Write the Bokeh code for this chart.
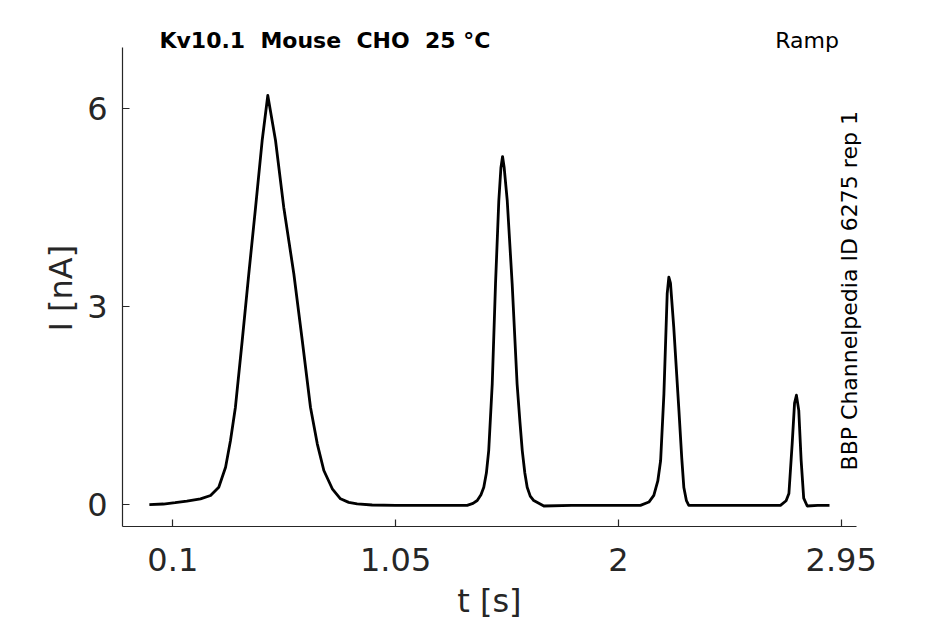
import math
from bokeh.plotting import figure
from bokeh.models import Label, Range1d, FixedTicker
from bokeh.embed import file_html
from bokeh.resources import INLINE

# ---- data ----
t_s = [0.00, 0.06, 0.11, 0.16, 0.218, 0.261, 0.296, 0.325, 0.346, 0.367, 0.396, 0.424, 0.453,
       0.481, 0.505, 0.538, 0.573, 0.616, 0.652, 0.687, 0.716, 0.744, 0.780, 0.815, 0.850, 0.886,
       0.95, 1.05, 1.15, 1.25, 1.355, 1.380, 1.398, 1.414, 1.426, 1.437, 1.447, 1.462, 1.476, 1.490,
       1.499, 1.506, 1.513, 1.526, 1.547, 1.568, 1.580, 1.590, 1.601, 1.611, 1.624, 1.639, 1.682,
       1.80, 1.90, 2.00, 2.094, 2.130, 2.151, 2.168, 2.180, 2.194, 2.208, 2.215, 2.222, 2.236,
       2.258, 2.270, 2.279, 2.290, 2.300, 2.40, 2.50, 2.60, 2.691, 2.715, 2.727, 2.741, 2.751,
       2.759, 2.769, 2.779, 2.790, 2.805, 2.85, 2.90]
i_nA = [-0.01, 0.0, 0.02, 0.045, 0.079, 0.129, 0.255, 0.558, 0.963, 1.468, 2.480, 3.492, 4.502,
        5.513, 6.196, 5.513, 4.502, 3.492, 2.480, 1.468, 0.913, 0.508, 0.231, 0.079, 0.025, 0.003,
        -0.015, -0.02, -0.02, -0.02, -0.02, 0.01, 0.053, 0.14, 0.255, 0.47, 0.81, 1.82, 3.34, 4.60,
        5.10, 5.27, 5.10, 4.60, 3.34, 1.82, 1.25, 0.81, 0.47, 0.255, 0.12, 0.053, -0.03,
        -0.02, -0.02, -0.02, -0.02, 0.03, 0.13, 0.35, 0.66, 1.67, 3.19, 3.44, 3.35, 2.68,
        1.42, 0.70, 0.25, 0.05, -0.02, -0.02, -0.02, -0.02, -0.02, 0.05, 0.16, 0.92, 1.53,
        1.65, 1.42, 0.67, 0.09, -0.03, -0.02, -0.02]

x_ticks = [0.1, 1.05, 2.0, 2.95]
x_tick_labels = {0.1: "0.1", 1.05: "1.05", 2.0: "2", 2.95: "2.95"}
y_ticks = [0, 3, 6]
x_axis_extent = (-0.1145, 3.017)
y_axis_extent = (-0.341, 6.925)

title_text = "Kv10.1\u00a0 Mouse\u00a0 CHO\u00a0 25 \u00b0C"
protocol_text = "Ramp"
source_text = "BBP Channelpedia ID 6275 rep 1"

AX = "#262626"
FONT = "DejaVu Sans"

p = figure(width=937, height=622, output_backend="svg", toolbar_location=None,
           x_range=Range1d(-0.1145, 3.0578), y_range=Range1d(-0.341, 7.197),
           min_border_left=122, min_border_right=71, min_border_top=29, min_border_bottom=96)
p.outline_line_color = None
p.xgrid.visible = False
p.ygrid.visible = False
p.background_fill_color = "white"

p.line(t_s, i_nA, line_color="black", line_width=2.8, line_join="round")

for ax in (p.xaxis[0], p.yaxis[0]):
    ax.axis_line_color = AX
    ax.axis_line_width = 1.2
    ax.major_tick_line_color = AX
    ax.major_tick_line_width = 1.2
    ax.major_tick_in = 7
    ax.major_tick_out = 0
    ax.minor_tick_line_color = None
    ax.major_label_text_font = FONT
    ax.major_label_text_font_size = "32px"
    ax.major_label_text_color = AX
    ax.axis_label_text_font = FONT
    ax.axis_label_text_font_size = "32px"
    ax.axis_label_text_color = AX
    ax.axis_label_text_font_style = "normal"

p.xaxis[0].bounds = x_axis_extent
p.xaxis[0].ticker = FixedTicker(ticks=x_ticks)
p.xaxis[0].major_label_overrides = x_tick_labels
p.xaxis[0].major_label_standoff = 21
p.xaxis[0].axis_label = "t [s]\u00a0"
p.xaxis[0].axis_label_standoff = 8

p.yaxis[0].bounds = y_axis_extent
p.yaxis[0].ticker = FixedTicker(ticks=y_ticks)
p.yaxis[0].major_label_standoff = 15
p.yaxis[0].axis_label = "I [nA]\u00a0\u00a0"
p.yaxis[0].axis_label_standoff = 4

p.add_layout(Label(x=0.043, y=7.035, text=title_text, text_font=FONT, text_font_size="22px",
                   text_font_style="bold", text_color="black", text_baseline="alphabetic",
                   text_align="left"))
p.add_layout(Label(x=2.94, y=7.035, text=protocol_text, text_font=FONT, text_font_size="22px",
                   text_color="black", text_baseline="alphabetic", text_align="right"))
p.add_layout(Label(x=2.985, y=0.51, text=source_text, text_font=FONT, text_font_size="22px",
                   text_color="black", text_baseline="alphabetic", text_align="left",
                   angle=math.pi / 2))

open("out.html", "w").write(file_html(p, INLINE))
